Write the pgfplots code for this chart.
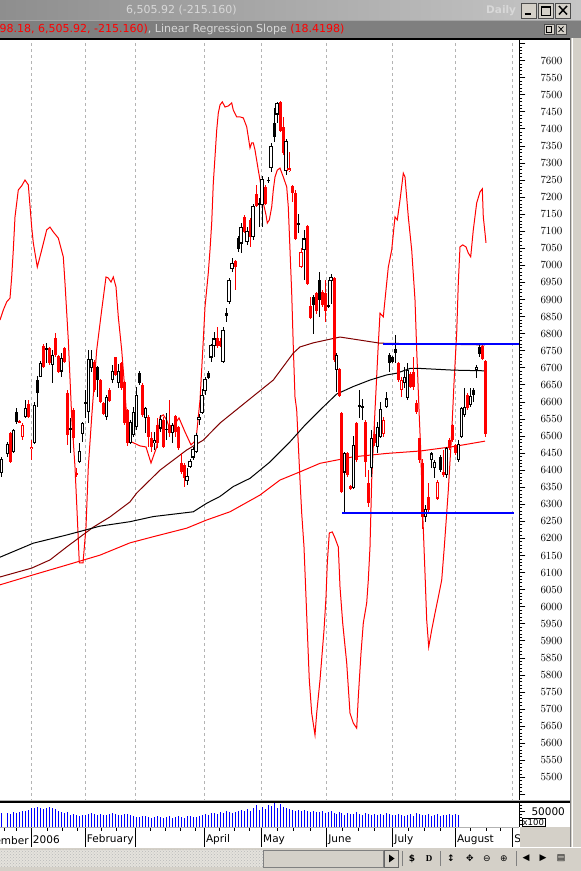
\documentclass[border=0pt]{standalone}
\usepackage{fontspec}
\setmainfont{DejaVu Sans}
\newfontfamily\seriffont{Liberation Serif}
\usepackage{pgfplots}
\pgfplotsset{compat=1.18}
\usepackage{pgfplotstable}
\usetikzlibrary{patterns}

\definecolor{winbg}{HTML}{D4D0C8}
\definecolor{gridgray}{HTML}{B4B4B4}
\definecolor{maroon}{HTML}{800000}
\definecolor{hdrlight}{HTML}{D8D8D8}
\definecolor{barmid}{HTML}{7F7F7F}
\definecolor{tbL}{HTML}{8E8E8E}
\definecolor{tbR}{HTML}{C6C6C6}
\definecolor{hatchbg}{HTML}{E4E2DC}
\definecolor{pricered}{HTML}{FF0000}
\definecolor{volblue}{HTML}{0000FF}

% daily candles: x position, open, high, low, close,
% k = 0 black filled, 1 black hollow, 2 red filled, 3 red hollow; v = volume
\pgfplotstableread{
x o h l c k v
1.3 6391 6439 6381 6434 1 44000
7.3 6447 6483 6439 6476 1 46000
10.3 6508 6512 6422 6425 2 43000
13.3 6454 6521 6450 6518 1 47000
16.3 6571 6581 6535 6542 0 45000
19.3 6543 6546 6537 6540 2 48000
22.3 6496 6537 6488 6532 3 50000
25.3 6555 6605 6552 6581 1 52000
28.3 6594 6605 6553 6555 2 55000
31.3 6462 6488 6430 6469 3 60000
34.3 6480 6600 6478 6590 1 62000
37.3 6664 6676 6586 6625 0 63000
40.3 6674 6721 6672 6713 1 62000
43.3 6765 6770 6698 6703 2 58000
46.3 6757 6772 6713 6752 0 61000
49.3 6759 6762 6708 6713 2 63000
52.3 6708 6752 6656 6737 1 60000
55.3 6786 6803 6732 6737 2 57000
58.3 6734 6737 6684 6689 2 52000
61.3 6689 6742 6672 6728 1 49000
64.3 6757 6762 6713 6718 2 45000
67.3 6625 6635 6474 6503 2 47000
70.3 6523 6552 6449 6520 0 40000
73.3 6576 6581 6488 6493 2 42000
76.3 6391 6405 6381 6386 2 38000
79.3 6423 6480 6420 6456 1 36000
82.3 6506 6542 6484 6539 1 40000
85.3 6599 6635 6552 6596 0 39000
88.3 6571 6752 6537 6725 1 42000
91.3 6698 6752 6689 6725 1 44000
94.3 6718 6723 6630 6635 2 41000
97.3 6703 6705 6615 6664 0 39000
100.3 6664 6668 6596 6601 2 43000
103.3 6598 6600 6562 6566 2 40000
106.3 6555 6620 6547 6615 1 38000
109.3 6635 6640 6600 6604 2 41000
112.3 6664 6708 6654 6691 1 44000
115.3 6731 6733 6676 6679 2 42000
118.3 6654 6711 6640 6691 1 40000
121.3 6713 6716 6635 6640 2 38000
124.3 6659 6662 6532 6537 2 41000
127.3 6576 6580 6470 6479 2 43000
130.3 6479 6547 6477 6542 1 40000
133.3 6503 6586 6498 6571 1 37000
136.3 6527 6643 6518 6620 1 33000
139.3 6686 6691 6650 6654 0 31000
142.3 6649 6654 6557 6562 2 34000
145.3 6552 6586 6508 6581 1 36000
148.3 6557 6562 6469 6498 2 32000
151.3 6493 6513 6454 6469 2 30000
154.3 6480 6513 6459 6488 1 33000
157.3 6532 6552 6464 6479 2 35000
160.3 6522 6562 6513 6549 1 31000
163.3 6547 6557 6464 6469 2 29000
166.3 6518 6566 6488 6522 1 32000
169.3 6532 6606 6498 6508 2 34000
172.3 6510 6537 6479 6532 1 30000
175.3 6559 6562 6498 6513 2 33000
178.3 6527 6530 6460 6464 2 36000
181 6420 6449 6390 6395 2 32000
184 6415 6420 6351 6376 2 30000
187 6369 6405 6358 6383 1 34000
190 6410 6434 6405 6427 1 35000
193 6437 6469 6431 6461 1 32000
196 6454 6508 6449 6503 1 31000
199 6547 6566 6532 6556 1 36000
202 6568 6637 6566 6620 1 38000
205 6633 6674 6620 6666 1 42000
208 6684 6691 6666 6671 0 40000
211 6730 6771 6718 6766 1 44000
214 6764 6806 6733 6786 1 46000
217 6786 6820 6757 6764 2 43000
220 6779 6786 6760 6764 2 48000
223 6716 6820 6713 6812 1 45000
226 6859 6874 6835 6853 0 50000
229 6892 6962 6887 6957 1 47000
232 6988 7023 6981 7006 1 44000
235 7013 7016 6928 6996 2 49000
238 7079 7085 7040 7047 0 52000
241 7064 7123 7037 7113 1 55000
244 7142 7147 7094 7098 2 50000
247 7069 7113 7059 7101 1 58000
250 7133 7138 7055 7082 2 53000
253 7084 7180 7074 7174 1 62000
256 7209 7235 7170 7174 2 70000
259 7183 7196 7113 7179 0 55000
262 7176 7262 7113 7253 1 65000
265 7230 7235 7176 7181 2 58000
268 7251 7260 7240 7248 0 72000
271 7284 7359 7274 7350 1 68000
274 7416 7460 7362 7377 0 77000
277 7442 7480 7416 7477 1 62000
280 7480 7483 7392 7395 2 73000
283 7406 7436 7323 7330 2 66000
286 7277 7369 7265 7365 1 60000
289 7276 7333 7274 7284 3 58000
292 7232 7235 7186 7211 2 55000
295 7211 7221 7074 7076 2 52000
298 7124 7150 7094 7121 0 54000
301 6996 7050 6991 7040 3 50000
304 7045 7103 6957 7079 1 56000
307 7116 7118 6942 6945 2 51000
310 6881 6908 6844 6847 2 48000
313 6908 6913 6800 6884 0 53000
316 6918 6923 6859 6867 2 49000
319 6957 6981 6849 6898 0 47000
322 6923 6928 6879 6884 2 52000
325 6918 6957 6835 6867 2 45000
328 6883 6957 6874 6879 0 49000
331 6955 6974 6888 6965 1 50000
334 6962 6967 6717 6722 2 46000
336.5 6694 6742 6630 6737 1 42000
339 6695 6698 6615 6617 2 48000
341.7 6568 6571 6332 6337 2 44000
344.5 6393 6454 6275 6451 1 40000
347.3 6449 6454 6381 6386 2 45000
350.3 6353 6356 6342 6344 2 43000
353.3 6347 6500 6344 6474 1 41000
356.3 6539 6542 6425 6430 2 47000
359.3 6591 6635 6552 6584 0 42000
362.3 6588 6607 6547 6581 0 39000
365.3 6542 6547 6381 6425 2 44000
368.3 6361 6400 6293 6303 2 41000
371.3 6405 6518 6381 6493 1 38000
374.3 6505 6530 6470 6480 2 42000
377.3 6469 6540 6450 6527 1 40000
380.3 6498 6600 6493 6578 1 43000
383.3 6505 6555 6498 6547 3 39000
386.3 6584 6630 6582 6610 1 45000
389.3 6737 6742 6689 6713 0 41000
392.3 6732 6735 6715 6718 0 40000
395.3 6755 6796 6713 6742 0 38000
398.3 6713 6718 6659 6664 2 42000
401.3 6635 6674 6615 6664 3 40000
404.3 6654 6703 6642 6674 1 36000
407.3 6610 6713 6605 6693 1 39000
410.3 6683 6688 6640 6644 2 41000
413.3 6688 6732 6635 6644 2 37000
416.3 6596 6605 6566 6571 2 44000
419.3 6493 6495 6420 6429 2 42000
422.3 6420 6434 6229 6263 2 40000
425.3 6263 6297 6249 6285 1 38000
428.3 6322 6361 6278 6283 2 41000
431.3 6429 6454 6405 6449 1 36000
434.3 6405 6429 6376 6425 1 39000
437.3 6317 6371 6312 6366 3 43000
440.3 6439 6444 6395 6400 0 37000
443.3 6395 6459 6381 6385 2 40000
446.3 6385 6469 6376 6464 1 38000
449.3 6488 6493 6459 6464 2 42000
452.3 6532 6535 6483 6488 2 39000
455.3 6473 6478 6444 6449 2 41000
458.3 6429 6488 6424 6478 1 40000
461.3 6498 6586 6493 6581 1 nan
464.3 6561 6640 6556 6586 1 nan
467.3 6620 6625 6576 6581 2 nan
470.3 6591 6642 6586 6617 1 nan
473.3 6635 6640 6600 6620 0 nan
476.3 6693 6708 6669 6703 1 nan
479.3 6760 6767 6732 6740 0 nan
482.3 6764 6772 6722 6727 2 nan
485.3 6721 6723 6498 6506 2 nan
}\candles

\pgfplotsset{
  % one candle part: #1 = k range, #2 = colour, #3 = line width
  cpart/.style n args={3}{draw=none, mark=none, forget plot,
    restrict expr to domain={\thisrow{k}}{#1},
    error bars/.cd, y dir=both, y explicit, error mark=none,
    error bar style={draw=#2, line width=#3}},
}

\begin{document}
\begin{tikzpicture}[x=1pt,y=1pt]
\fill[white] (0,0) rectangle (581,871);

% price pane
\begin{axis}[
  at={(0pt,69pt)}, anchor=south west, scale only axis,
  width=519.3pt, height=762pt,
  xmin=0, xmax=519.3, ymin=5427.7, ymax=7660.3,
  axis y line*=right, axis x line*=bottom,
  axis line style={black, line width=1pt},
  xtick={31.3,85.3,135.3,204.3,261.5,326.7,392.7,455.3,512.7},
  xticklabels={}, xtick style={draw=none},
  xmajorgrids, major grid style={gridgray, dash pattern=on 3pt off 3pt, line width=0.8pt},
  ytick={5450,5500,...,7650}, minor y tick num=4,
  tick align=outside, major tick length=6pt, minor tick length=3pt,
  tick style={black, line width=0.7pt},
  scaled ticks=false,
  yticklabel={\ifnum\ticknum=0 \else\ifnum\ticknum=44 \else\pgfmathprintnumber[fixed,precision=0,1000 sep={}]{\tick}\fi\fi},
  yticklabel style={anchor=west, inner sep=0pt, xshift=15pt, font=\fontsize{10.5}{12}\selectfont},
]
% linear regression slope overlay
\addplot[pricered, line width=1pt] coordinates {
(0,6840)(3.3,6869)(6.7,6893)(10,6904)(11.7,6966)(13.3,7045)(15,7142)(18.3,7221)(21.7,7233)(25,7250)
(28.3,7236)(31.7,7112)(33.3,7066)(37.3,6995)(41.7,7045)(46.7,7104)(50,7112)(53.3,7098)(58.3,7080)
(63.3,7025)(65,6948)(68.3,6781)(71.7,6556)(75,6409)(77.3,6263)(79.3,6128)(83,6128)(86,6233)
(88.3,6409)(91.7,6556)(96.7,6752)(101.7,6869)(106,6966)(108.3,6963)(111,6951)(113.3,6966)(116,6937)
(118.3,6849)(121.7,6752)(124.3,6655)(126.7,6556)(129.3,6488)(132,6482)(140,6471)(146,6468)(151,6421)
(156.7,6468)(160,6556)(163.3,6562)(166.7,6547)(170,6518)(174,6532)(179,6553)(185,6512)(191,6474)
(196,6488)(200,6605)(203.3,6781)(205,6878)(208.3,6978)(210,7045)(211.7,7124)(213.3,7241)(215,7318)
(216.7,7396)(218.3,7446)(220,7470)(222.3,7479)(225,7464)(228.3,7467)(231.7,7476)(233.3,7455)
(236.7,7435)(240,7435)(243.3,7432)(246.7,7406)(248.3,7376)(250,7344)(251.7,7359)(253.3,7359)
(255,7338)(258.3,7279)(260,7250)(261.7,7221)(263.3,7183)(266,7148)(267.3,7124)(269.3,7133)
(271.7,7171)(273.3,7221)(275,7259)(277.3,7279)(280,7285)(283.3,7259)(286.7,7230)(288.3,7171)
(290,7045)(291.7,6919)(293.3,6761)(295,6614)(296.7,6576)(300,6371)(301.7,6274)(304,6175)(306,6028)
(307.3,5931)(309.3,5785)(311.7,5688)(315,5624)(316.7,5688)(320,5785)(324,5931)(326,6028)(327.3,6128)
(329.3,6216)(332.3,6219)(335,6201)(338.3,6175)(340,6058)(342.7,5952)(346.7,5835)(350,5688)
(353.3,5659)(356.7,5644)(358.3,5735)(361,5864)(363.3,5952)(366.7,6011)(368.3,6078)(370,6175)
(371.7,6371)(375,6575)(378,6752)(380,6860)(383.3,6849)(385,6899)(388.3,6995)(391.7,7045)(395,7142)
(397.3,7133)(400,7191)(403.3,7270)(405,7259)(408.3,7142)(411.7,7045)(415,6899)(416.7,6752)
(419.3,6556)(420.7,6459)(422.7,6274)(425,6098)(426.7,5961)(428.7,5882)(431.7,5932)(435,5981)
(438.3,6028)(441.7,6078)(444.3,6175)(446.7,6274)(448.3,6341)(451.7,6509)(454,6655)(456.7,6802)
(458.3,6948)(460,7054)(462.7,7060)(466,7054)(468.3,7036)(470.7,7025)(473.3,7104)(476.7,7183)
(480,7215)(482.3,7224)(483.3,7142)(485,7095)(486,7066)};
% moving averages
\addplot[pricered, line width=1pt] coordinates {
(0,6064)(33,6093)(66.7,6122)(100,6151)(130,6187)(153.3,6205)(186.7,6230)(206.7,6254)(230,6278)
(260,6327)(280,6371)(300,6395)(320,6420)(353.3,6439)(386.7,6449)(420,6456)(453.3,6469)(485,6485)};
\addplot[maroon, line width=1pt] coordinates {
(0,6087)(31.7,6113)(50,6137)(66.7,6175)(80,6204)(93.3,6233)(110,6263)(130,6307)(136.7,6333)
(160,6400)(186.7,6459)(203.3,6488)(220,6538)(250,6609)(273.3,6664)(293.3,6743)(300,6761)
(313.3,6773)(340,6790)(360,6781)(380,6772)(420,6770)(485,6767)};
\addplot[black, line width=1pt] coordinates {
(0,6145)(33.3,6186)(66.7,6210)(100,6236)(130,6249)(153.3,6264)(193.3,6278)(206.7,6303)(220,6323)
(233.3,6352)(250,6376)(270,6424)(290,6483)(305,6532)(320,6576)(336.7,6623)(353.3,6645)(370,6664)
(386.7,6679)(396.7,6684)(410,6698)(420,6698)(453.3,6693)(485,6691)};
% candles: wicks, then bodies, then white insides of hollow bodies
\addplot[cpart={0:1}{black}{1pt}] table[x=x, y expr={(\thisrow{h}+\thisrow{l})/2}, y error expr={(\thisrow{h}-\thisrow{l})/2}] {\candles};
\addplot[cpart={2:3}{pricered}{1pt}] table[x=x, y expr={(\thisrow{h}+\thisrow{l})/2}, y error expr={(\thisrow{h}-\thisrow{l})/2}] {\candles};
\addplot[cpart={0:0}{black}{3pt}] table[x=x, y expr={(\thisrow{o}+\thisrow{c})/2}, y error expr={max(abs(\thisrow{o}-\thisrow{c})/2,1.8)}] {\candles};
\addplot[cpart={2:2}{pricered}{3pt}] table[x=x, y expr={(\thisrow{o}+\thisrow{c})/2}, y error expr={max(abs(\thisrow{o}-\thisrow{c})/2,1.8)}] {\candles};
\addplot[cpart={1:1}{black}{3.6pt}] table[x=x, y expr={(\thisrow{o}+\thisrow{c})/2}, y error expr={max(abs(\thisrow{o}-\thisrow{c})/2,1.8)}] {\candles};
\addplot[cpart={3:3}{pricered}{3.6pt}] table[x=x, y expr={(\thisrow{o}+\thisrow{c})/2}, y error expr={max(abs(\thisrow{o}-\thisrow{c})/2,1.8)}] {\candles};
\addplot[cpart={1:1}{white}{1.5pt}] table[x=x, y expr={(\thisrow{o}+\thisrow{c})/2}, y error expr={max(abs(\thisrow{o}-\thisrow{c})/2-3.2,0)}] {\candles};
\addplot[cpart={3:3}{white}{1.5pt}] table[x=x, y expr={(\thisrow{o}+\thisrow{c})/2}, y error expr={max(abs(\thisrow{o}-\thisrow{c})/2-3.2,0)}] {\candles};
% trend lines
\addplot[volblue, line width=2.4pt] coordinates {(383,6769)(519.3,6769)};
\addplot[volblue, line width=2.4pt] coordinates {(342,6274)(514,6274)};
\end{axis}

% volume pane
\begin{axis}[
  at={(0pt,44pt)}, anchor=south west, scale only axis,
  width=519.3pt, height=25pt,
  xmin=0, xmax=519.3, ymin=0, ymax=80645,
  axis y line*=right, axis x line=none,
  axis line style={black, line width=1pt},
  ytick={50000}, yticklabels={50000},
  minor ytick={10000,20000,30000,40000,60000,70000,80000},
  tick align=outside, major tick length=6pt, minor tick length=3pt,
  tick style={black, line width=0.7pt},
  scaled ticks=false,
  yticklabel style={anchor=west, inner sep=0pt, xshift=6pt, font=\fontsize{10.5}{12}\selectfont},
]
\addplot[ycomb, volblue, line width=1pt] table[x=x, y=v] {\candles};
\end{axis}

% date row
\begin{axis}[
  at={(0pt,24pt)}, anchor=south west, scale only axis,
  width=519.3pt, height=20pt,
  xmin=0, xmax=519.3, ymin=0, ymax=1,
  axis x line*=top, axis y line=none,
  axis line style={gray!60, line width=0.8pt},
  xtick={31.3,85.3,135.3,204.3,261.5,326.7,392.7,455.3,512.7},
  xticklabels={2006,February,,April,May,June,July,August,September},
  minor xtick={4,16,47,62,77,101,116,150,165,180,195,219,234,249,277,293,310,342,358,374,408,424,440,470,486,500},
  tick align=inside, major tick length=4pt, minor tick length=4pt,
  tick style={black, line width=0.7pt},
  xmajorgrids, major grid style={black, line width=0.8pt},
  xticklabel style={anchor=west, inner sep=0pt, xshift=1.5pt, yshift=-13pt, font=\fontsize{10.5}{12}\selectfont},
]
\end{axis}
\node[anchor=west, inner sep=0pt, font=\fontsize{10.5}{12}\selectfont] at (-26,30) {December};

% separators and frames
\draw[gray!60, line width=0.8pt] (0,70.6) -- (570,70.6);
\draw[black, line width=1.2pt] (0,69) -- (570,69);
\node[draw=black, fill=white, inner sep=1pt, font=\fontsize{8.5}{10}\selectfont, anchor=south west] at (521.5,44.5) {x100};
\fill[winbg] (519.8,24) rectangle (581,43.6);
\fill[winbg] (0,0) rectangle (581,24);
\draw[white, line width=0.8pt] (0,23.6) -- (581,23.6);
\fill[hatchbg] (0,4) rectangle (263,21);
\fill[pattern=crosshatch dots, pattern color=gray!55] (0,4) rectangle (263,21);
\draw[fill=winbg, draw=gray] (263.5,4) rectangle (383,21);
\draw[fill=winbg, draw=black!60] (384,4) rectangle (398,21);
\fill[black] (389,8.5) -- (394.5,12.5) -- (389,16.5) -- cycle;
\draw[gray] (402,5) -- (402,20) (440,5) -- (440,20) (516,5) -- (516,20);
\begin{scope}[every node/.style={inner sep=0pt, font=\fontsize{9}{9}\selectfont}]
\node at (412,12.5) {\textbf{\$}};
\node at (429,12.5) {\seriffont\bfseries D};
\node at (451,12.5) {\textbf{↕}};
\node at (470,12.5) {✥};
\node at (487,12.5) {⊖};
\node at (504,12.5) {⊕};
\node at (526,12.5) {◀};
\node at (543,12.5) {▶};
\node at (561,12.5) {▤};
\end{scope}
\fill[winbg] (570,24) rectangle (581,851);
\draw[gray, line width=0.8pt] (570.4,24) -- (570.4,833);
\draw[white, line width=0.8pt] (572,24) -- (572,833);

% header bars
\fill[black] (0,831) rectangle (570,833);
\fill[barmid] (0,833) rectangle (581,851);
\draw[gray!70, line width=0.6pt] (0,850.7) -- (581,850.7);
\node[anchor=west, inner sep=0pt, font=\fontsize{11}{13}\selectfont] at (-0.5,842)
  {\textcolor{pricered}{98.18, 6,505.92, -215.160)}\textcolor{hdrlight}{, Linear Regression Slope }\textcolor{pricered}{(18.4198)}};
\draw[fill=winbg, draw=black!70] (544,836.5) rectangle (554,847);
\draw[fill=winbg, draw=black!70] (556,836.5) rectangle (566,847);
\draw[line width=0.7pt] (546.5,839) rectangle (551.5,844.5);
\draw[line width=0.7pt] (558.5,839) -- (563.5,844.5) (558.5,844.5) -- (563.5,839);
\shade[left color=tbL, right color=tbR] (0,851) rectangle (581,871);
\node[anchor=west, inner sep=0pt, text=hdrlight, font=\fontsize{11}{13}\selectfont] at (126,860.5) {6,505.92 (-215.160)};
\node[anchor=west, inner sep=0pt, text=hdrlight, font=\bfseries\fontsize{10.5}{13}\selectfont] at (486,860.5) {Daily};
\foreach \bx in {521,538,555} {\draw[fill=winbg, draw=black!70] (\bx,853) rectangle ++(15.5,15);}
\draw[line width=2pt] (524.5,856.5) -- (531,856.5);
\draw[line width=0.8pt] (541.5,856) rectangle (550,865);
\draw[line width=2pt] (541.5,864.2) -- (550,864.2);
\draw[line width=1.5pt] (559,856.5) -- (567,865) (559,865) -- (567,856.5);

\pgfresetboundingbox
\useasboundingbox (0,0) rectangle (581,871);
\end{tikzpicture}
\end{document}
